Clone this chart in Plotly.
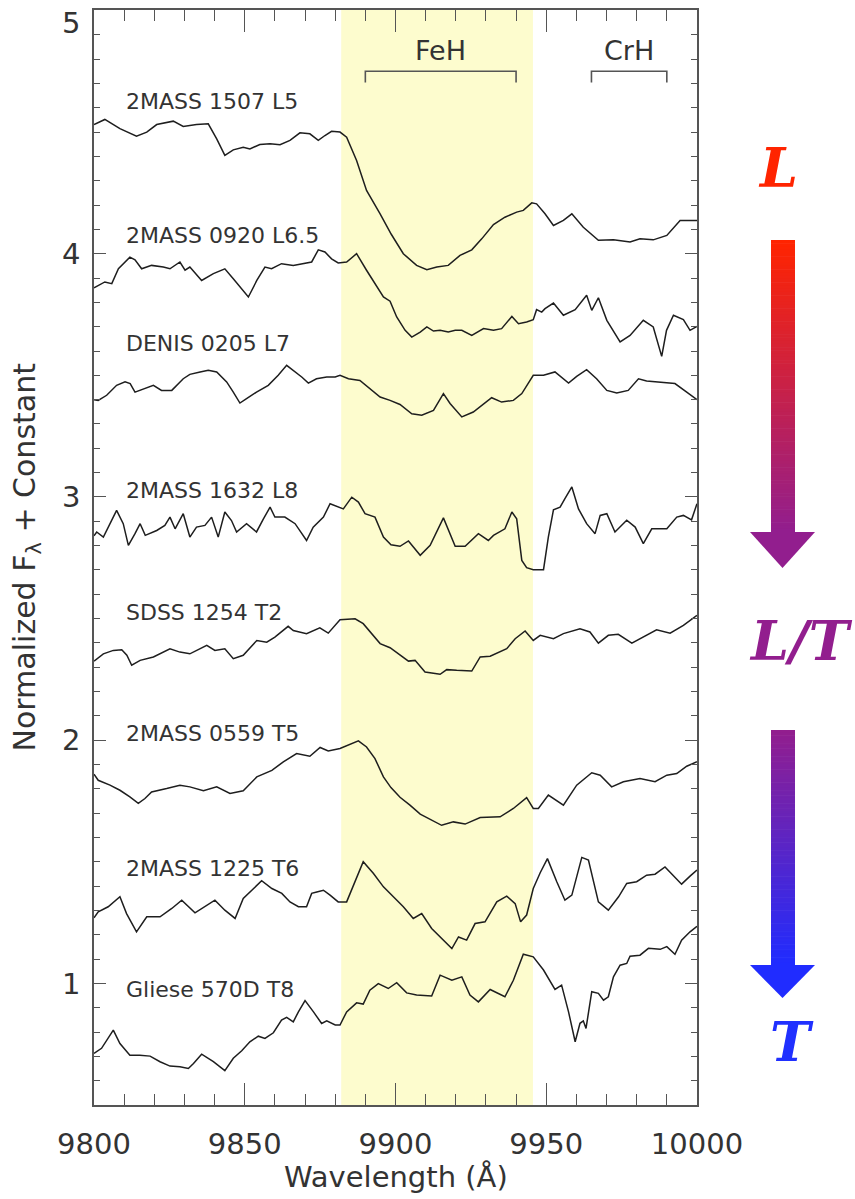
import plotly.graph_objects as go

# ---- spectra: (wavelength [Å], normalized flux + offset) ----
s1507_L5 = [(9800, 4.531), (9803.6, 4.552), (9808.6, 4.514), (9814.1, 4.483), (9817.5, 4.500),
            (9820.8, 4.531), (9826.3, 4.545), (9829.6, 4.523), (9834.0, 4.531), (9837.9, 4.534),
            (9840.7, 4.472), (9843.4, 4.404), (9846.2, 4.427), (9849.5, 4.438), (9851.7, 4.431),
            (9855.0, 4.449), (9858.4, 4.452), (9861.7, 4.448), (9865.0, 4.466), (9868.3, 4.497),
            (9871.6, 4.493), (9874.4, 4.466), (9876.6, 4.486), (9878.8, 4.503), (9881.6, 4.500),
            (9883.8, 4.479), (9887.1, 4.383), (9890.4, 4.260), (9894.9, 4.164), (9898.6, 4.080),
            (9902.6, 4.000), (9907.0, 3.952), (9910.4, 3.934), (9913.7, 3.945), (9917.5, 3.952),
            (9921.4, 3.993), (9925.3, 4.016), (9928.6, 4.061), (9932.5, 4.120), (9936.3, 4.150),
            (9940.2, 4.171), (9942.4, 4.178), (9945.2, 4.209), (9946.8, 4.205), (9949.6, 4.164),
            (9952.4, 4.116), (9955.7, 4.137), (9958.5, 4.164), (9962.3, 4.109), (9967.3, 4.055),
            (9972.3, 4.057), (9977.8, 4.048), (9981.1, 4.061), (9985.5, 4.057), (9990.0, 4.075),
            (9994.4, 4.137), (9997.7, 4.137), (10000, 4.137)]

s0920_L65 = [(9800, 3.860), (9803.6, 3.884), (9805.9, 3.877), (9808.1, 3.938), (9811.9, 3.986),
             (9813.6, 3.975), (9815.8, 3.938), (9819.1, 3.952), (9823.0, 3.945), (9825.2, 3.938),
             (9828.5, 3.966), (9830.2, 3.932), (9831.8, 3.945), (9835.7, 3.890), (9839.6, 3.918),
             (9843.4, 3.938), (9846.2, 3.897), (9851.2, 3.822), (9854.0, 3.890), (9856.7, 3.945),
             (9858.9, 3.938), (9862.2, 3.959), (9866.1, 3.952), (9869.4, 3.959), (9872.2, 3.966),
             (9874.4, 4.016), (9876.6, 4.007), (9878.8, 3.979), (9881.0, 3.962), (9883.8, 3.966),
             (9887.1, 4.000), (9890.4, 3.932), (9893.7, 3.870), (9896.0, 3.822), (9898.2, 3.805),
             (9900.4, 3.740), (9903.2, 3.685), (9905.4, 3.657), (9908.2, 3.678), (9910.4, 3.699),
             (9912.6, 3.682), (9914.8, 3.685), (9917.5, 3.678), (9919.8, 3.685), (9922.0, 3.685),
             (9925.3, 3.664), (9929.2, 3.692), (9932.5, 3.685), (9935.2, 3.692), (9938.6, 3.742),
             (9940.8, 3.712), (9943.5, 3.719), (9945.7, 3.729), (9946.8, 3.770), (9948.5, 3.760),
             (9949.6, 3.774), (9952.4, 3.797), (9955.7, 3.747), (9959.6, 3.770), (9963.4, 3.829),
             (9965.1, 3.767), (9967.3, 3.819), (9970.1, 3.726), (9974.5, 3.637), (9977.8, 3.664),
             (9982.2, 3.726), (9985.5, 3.699), (9988.3, 3.578), (9989.9, 3.685), (9992.2, 3.747),
             (9995.5, 3.729), (9997.7, 3.685), (10000, 3.701)]

s0205_L7 = [(9800, 3.400), (9801.4, 3.397), (9804.2, 3.418), (9807.5, 3.459), (9810.3, 3.473),
            (9812.0, 3.466), (9813.6, 3.431), (9816.4, 3.445), (9819.7, 3.459), (9822.4, 3.438),
            (9825.8, 3.438), (9829.6, 3.486), (9831.8, 3.504), (9835.2, 3.514), (9837.9, 3.521),
            (9840.7, 3.514), (9844.0, 3.473), (9846.2, 3.431), (9848.4, 3.386), (9850.6, 3.404),
            (9853.9, 3.431), (9857.8, 3.459), (9861.1, 3.500), (9863.9, 3.541), (9866.1, 3.521),
            (9868.9, 3.493), (9871.1, 3.468), (9873.8, 3.486), (9877.2, 3.493), (9880.0, 3.493),
            (9881.6, 3.500), (9884.4, 3.486), (9888.2, 3.479), (9891.5, 3.445), (9894.9, 3.411),
            (9898.2, 3.397), (9901.5, 3.380), (9905.4, 3.342), (9908.7, 3.336), (9912.6, 3.356),
            (9915.9, 3.425), (9918.1, 3.384), (9922.0, 3.329), (9925.8, 3.349), (9928.6, 3.377),
            (9931.9, 3.408), (9935.2, 3.390), (9939.1, 3.397), (9941.9, 3.425), (9945.7, 3.500),
            (9949.1, 3.500), (9952.9, 3.514), (9957.4, 3.468), (9960.1, 3.496), (9963.4, 3.523),
            (9966.7, 3.486), (9970.1, 3.438), (9973.4, 3.427), (9977.2, 3.438), (9980.6, 3.486),
            (9983.3, 3.477), (9987.8, 3.473), (9992.7, 3.466), (9996.6, 3.431), (10000, 3.400)]

s1632_L8 = [(9800, 2.840), (9800.9, 2.856), (9803.1, 2.835), (9805.3, 2.890), (9807.5, 2.945),
            (9809.7, 2.890), (9811.4, 2.801), (9813.6, 2.849), (9815.3, 2.890), (9817.0, 2.842),
            (9820.8, 2.862), (9823.5, 2.883), (9825.2, 2.917), (9826.9, 2.869), (9829.6, 2.931),
            (9831.8, 2.835), (9834.0, 2.876), (9836.8, 2.883), (9839.0, 2.917), (9841.2, 2.835),
            (9843.4, 2.938), (9845.6, 2.903), (9847.3, 2.856), (9850.6, 2.890), (9853.9, 2.856),
            (9856.2, 2.910), (9858.4, 2.958), (9860.0, 2.917), (9863.3, 2.917), (9866.7, 2.890),
            (9870.5, 2.821), (9872.7, 2.876), (9876.1, 2.917), (9878.3, 2.972), (9881.0, 2.958),
            (9882.7, 2.951), (9885.5, 2.999), (9887.7, 2.979), (9889.9, 2.931), (9893.2, 2.917),
            (9896.0, 2.835), (9898.5, 2.803), (9901.5, 2.797), (9904.3, 2.819), (9908.2, 2.760),
            (9911.5, 2.801), (9915.9, 2.914), (9919.8, 2.797), (9923.1, 2.797), (9927.5, 2.849),
            (9930.8, 2.821), (9932.5, 2.842), (9936.3, 2.869), (9938.6, 2.938), (9940.2, 2.910),
            (9941.9, 2.739), (9943.5, 2.709), (9945.7, 2.701), (9949.1, 2.701), (9950.7, 2.835),
            (9952.4, 2.947), (9954.6, 2.958), (9956.2, 2.993), (9958.5, 3.041), (9960.7, 2.951),
            (9963.4, 2.890), (9966.2, 2.849), (9967.9, 2.924), (9970.1, 2.931), (9972.8, 2.856),
            (9976.7, 2.904), (9979.5, 2.876), (9982.2, 2.808), (9985.0, 2.869), (9990.0, 2.869),
            (9993.3, 2.917), (9995.5, 2.924), (9998.2, 2.906), (10000, 2.972)]

s1254_T2 = [(9800, 2.325), (9803.1, 2.355), (9806.4, 2.369), (9809.2, 2.372), (9810.9, 2.349),
            (9812.5, 2.308), (9815.3, 2.328), (9819.7, 2.342), (9825.2, 2.376), (9828.5, 2.362),
            (9831.8, 2.355), (9837.4, 2.390), (9840.1, 2.369), (9843.4, 2.376), (9846.2, 2.335),
            (9849.5, 2.349), (9854.0, 2.410), (9857.3, 2.403), (9860.0, 2.424), (9864.4, 2.468),
            (9866.1, 2.451), (9870.5, 2.438), (9874.9, 2.462), (9877.7, 2.440), (9881.6, 2.495),
            (9886.6, 2.499), (9889.3, 2.479), (9892.1, 2.438), (9894.9, 2.397), (9898.2, 2.380),
            (9901.5, 2.349), (9904.3, 2.325), (9906.5, 2.328), (9909.8, 2.280), (9914.8, 2.271),
            (9917.0, 2.290), (9920.3, 2.287), (9925.3, 2.284), (9928.1, 2.342), (9931.4, 2.345),
            (9936.9, 2.376), (9939.7, 2.417), (9943.0, 2.449), (9945.7, 2.410), (9948.0, 2.431),
            (9952.4, 2.417), (9955.7, 2.438), (9961.2, 2.458), (9964.5, 2.445), (9967.3, 2.399),
            (9970.6, 2.431), (9973.9, 2.435), (9978.4, 2.399), (9982.2, 2.424), (9986.6, 2.454),
            (9991.1, 2.440), (9995.5, 2.472), (10000, 2.513)]

s0559_T5 = [(9800, 1.860), (9801.4, 1.835), (9805.3, 1.815), (9808.6, 1.794), (9811.9, 1.767),
            (9814.7, 1.740), (9816.9, 1.760), (9819.1, 1.787), (9824.1, 1.801), (9828.5, 1.815),
            (9831.8, 1.808), (9836.3, 1.792), (9840.7, 1.808), (9845.1, 1.781), (9849.5, 1.792),
            (9854.0, 1.849), (9859.0, 1.876), (9862.8, 1.911), (9867.2, 1.945), (9871.6, 1.934),
            (9875.0, 1.970), (9877.7, 1.956), (9881.6, 1.966), (9884.4, 1.979), (9887.7, 1.997),
            (9890.4, 1.972), (9893.2, 1.924), (9896.0, 1.849), (9898.5, 1.805), (9901.5, 1.765),
            (9904.8, 1.733), (9908.2, 1.696), (9912.0, 1.671), (9915.3, 1.650), (9919.2, 1.664),
            (9923.1, 1.655), (9928.1, 1.682), (9934.7, 1.685), (9939.1, 1.719), (9943.5, 1.764),
            (9945.7, 1.719), (9947.4, 1.719), (9950.7, 1.774), (9955.7, 1.733), (9960.1, 1.815),
            (9965.1, 1.866), (9967.9, 1.856), (9971.7, 1.808), (9975.6, 1.829), (9981.1, 1.842),
            (9986.1, 1.829), (9990.0, 1.856), (9993.3, 1.863), (9996.6, 1.893), (10000, 1.911)]

s1225_T6 = [(9800, 1.270), (9801.4, 1.294), (9804.7, 1.315), (9808.6, 1.356), (9810.8, 1.287),
            (9814.1, 1.212), (9817.5, 1.274), (9821.9, 1.274), (9825.8, 1.308), (9829.1, 1.342),
            (9833.5, 1.290), (9836.8, 1.315), (9840.1, 1.342), (9843.4, 1.301), (9846.8, 1.267),
            (9849.5, 1.349), (9852.3, 1.383), (9855.6, 1.422), (9859.0, 1.390), (9862.3, 1.370),
            (9865.0, 1.335), (9867.8, 1.315), (9870.5, 1.315), (9872.2, 1.370), (9873.9, 1.376),
            (9876.1, 1.383), (9878.3, 1.363), (9881.0, 1.335), (9883.8, 1.335), (9886.6, 1.418),
            (9889.3, 1.500), (9892.7, 1.452), (9896.0, 1.397), (9899.3, 1.356), (9902.6, 1.315),
            (9905.9, 1.267), (9908.7, 1.287), (9912.0, 1.226), (9916.4, 1.171), (9918.7, 1.143),
            (9920.9, 1.191), (9923.6, 1.178), (9926.4, 1.246), (9929.7, 1.253), (9933.6, 1.335),
            (9936.9, 1.359), (9939.7, 1.328), (9941.5, 1.253), (9943.5, 1.281), (9945.7, 1.390),
            (9948.0, 1.455), (9950.4, 1.513), (9953.5, 1.418), (9956.2, 1.342), (9958.5, 1.363),
            (9961.8, 1.518), (9964.0, 1.507), (9967.3, 1.335), (9970.6, 1.301), (9974.0, 1.356),
            (9976.7, 1.411), (9980.0, 1.418), (9983.3, 1.445), (9986.1, 1.449), (9989.4, 1.479),
            (9992.2, 1.445), (9994.9, 1.408), (9997.7, 1.441), (10000, 1.466)]

s570D_T8 = [(9800, 0.712), (9802.5, 0.733), (9806.4, 0.808), (9808.6, 0.753), (9811.9, 0.705),
            (9815.2, 0.705), (9818.6, 0.701), (9821.9, 0.678), (9825.2, 0.660), (9828.5, 0.657),
            (9831.3, 0.650), (9833.0, 0.671), (9835.7, 0.709), (9839.6, 0.678), (9843.4, 0.641),
            (9846.2, 0.692), (9849.0, 0.723), (9851.7, 0.760), (9854.5, 0.783), (9856.7, 0.774),
            (9859.5, 0.797), (9862.2, 0.849), (9863.9, 0.860), (9866.1, 0.842), (9867.8, 0.883),
            (9870.0, 0.929), (9872.8, 0.883), (9875.5, 0.835), (9877.2, 0.846), (9880.0, 0.829),
            (9881.6, 0.829), (9883.8, 0.883), (9887.1, 0.920), (9889.3, 0.915), (9891.5, 0.972),
            (9894.3, 0.999), (9897.6, 0.979), (9900.4, 1.003), (9903.7, 0.961), (9907.0, 0.952),
            (9912.0, 0.948), (9914.8, 1.034), (9918.7, 1.013), (9922.0, 1.027), (9924.7, 0.952),
            (9927.5, 0.924), (9931.4, 0.975), (9936.3, 0.945), (9939.1, 1.013), (9942.4, 1.120),
            (9945.7, 1.109), (9949.1, 1.055), (9952.9, 0.975), (9955.1, 0.993), (9957.4, 0.883),
            (9959.6, 0.760), (9961.2, 0.836), (9962.3, 0.846), (9963.2, 0.815), (9965.1, 0.966),
            (9967.3, 0.959), (9969.0, 0.931), (9970.6, 0.945), (9972.3, 1.027), (9974.5, 1.075),
            (9976.7, 1.082), (9977.8, 1.112), (9981.1, 1.116), (9983.9, 1.144), (9987.8, 1.140),
            (9990.0, 1.151), (9992.7, 1.120), (9994.9, 1.178), (9997.7, 1.212), (10000, 1.235)]

spectra = [s1507_L5, s0920_L65, s0205_L7, s1632_L8, s1254_T2, s0559_T5, s1225_T6, s570D_T8]
names = ["2MASS 1507 L5", "2MASS 0920 L6.5", "DENIS 0205 L7", "2MASS 1632 L8",
         "SDSS 1254 T2", "2MASS 0559 T5", "2MASS 1225 T6", "Gliese 570D T8"]
label_y = [4.626, 4.075, 3.631, 3.027, 2.526, 2.028, 1.473, 0.976]
label_x = 9810.0

# FeH band and molecular feature brackets
feh_band = [9882.0, 9945.6]
feh_bracket = [9890.0, 9940.0]
crh_bracket = [9965.0, 9990.0]
bracket_top, bracket_end = 4.750, 4.704
bracket_label_y = 4.836

x_ticks = [9800, 9850, 9900, 9950, 10000]
y_ticks = [1, 2, 3, 4]
y_top = 5

FONT = "DejaVu Sans"
TXT = "#333333"
AX = "#555555"

fig = go.Figure()
for sp, nm in zip(spectra, names):
    wl, fx = zip(*sp)
    fig.add_trace(go.Scatter(x=list(wl), y=list(fx), mode="lines", name=nm,
                             line=dict(color="#1e1e1e", width=1.5), showlegend=False,
                             hoverinfo="skip"))

shapes = [dict(type="rect", xref="x", yref="paper", x0=feh_band[0], x1=feh_band[1],
               y0=0, y1=1, fillcolor="#FDFCCE", line=dict(width=0), layer="below")]
for lo, hi in (feh_bracket, crh_bracket):
    shapes.append(dict(type="path", xref="x", yref="y",
                       path=f"M {lo},{bracket_end} L {lo},{bracket_top} L {hi},{bracket_top} L {hi},{bracket_end}",
                       line=dict(color="#555555", width=1.6)))

annotations = []
for nm, ly in zip(names, label_y):
    annotations.append(dict(x=label_x, y=ly, xref="x", yref="y", text=nm, showarrow=False,
                            xanchor="left", yanchor="middle",
                            font=dict(family=FONT, size=22, color=TXT)))
for txt, lo, hi in (("FeH", *feh_bracket), ("CrH", *crh_bracket)):
    annotations.append(dict(x=(lo + hi) / 2, y=bracket_label_y, xref="x", yref="y", text=txt,
                            showarrow=False, xanchor="center", yanchor="middle",
                            font=dict(family=FONT, size=27, color=TXT)))

# the top y label sits just inside the page, below the frame corner
annotations.append(dict(x=-12 / 603, y=y_top, xref="paper", yref="y", text=str(y_top),
                        showarrow=False, xanchor="right", yanchor="top", yshift=6,
                        font=dict(family=FONT, size=29, color=TXT)))

# axis titles
annotations.append(dict(x=0.5, y=(1105 - 1177) / 1095, xref="paper", yref="paper",
                        text="Wavelength (Å)", showarrow=False, xanchor="center", yanchor="middle",
                        font=dict(family=FONT, size=29, color=TXT)))
annotations.append(dict(x=(26 - 94) / 603, y=0.5, xref="paper", yref="paper",
                        text="Normalized F<sub>λ</sub> + Constant", showarrow=False, textangle=-90,
                        xanchor="center", yanchor="middle",
                        font=dict(family=FONT, size=30, color=TXT)))

# spectral-type sequence on the right: L -> L/T -> T with gradient arrows
def px(xpix):
    return (xpix - 94) / 603

def py(ypix):
    return (1105 - ypix) / 1095

def mix(c0, c1, t):
    return "rgb({},{},{})".format(*[round(a + (b - a) * t) for a, b in zip(c0, c1)])

def gradient_arrow(top, base, tip, c0, c1, n=90):
    sx0, sx1 = 771, 795
    h = (base - top) / n
    for i in range(n):
        y0 = top + i * h
        shapes.append(dict(type="rect", xref="paper", yref="paper",
                           x0=px(sx0), x1=px(sx1), y0=py(y0 + h + 0.6), y1=py(y0),
                           fillcolor=mix(c0, c1, i / (n - 1)), line=dict(width=0)))
    shapes.append(dict(type="path", xref="paper", yref="paper",
                       path=f"M {px(750)},{py(base)} L {px(815)},{py(base)} L {px(782.5)},{py(tip)} Z",
                       fillcolor=mix(c0, c1, 1.0), line=dict(width=0)))

RED, PURPLE, BLUE = (255, 36, 0), (146, 30, 142), (32, 44, 255)
gradient_arrow(240, 532, 568, RED, PURPLE)
gradient_arrow(730, 965, 998, PURPLE, BLUE)

SLAB = "DejaVu Serif"
for txt, xc, yc, col in (("<b><i>L</i></b>", 778, 168, "#FF2400"),
                         ("<b><i>L/T</i></b>", 801, 641, "#921E8E"),
                         ("<b><i>T</i></b>", 792, 1042, "#2030FF")):
    annotations.append(dict(x=px(xc), y=py(yc), xref="paper", yref="paper", text=txt,
                            showarrow=False, xanchor="center", yanchor="middle",
                            font=dict(family=SLAB, size=54, color=col)))

axis_common = dict(showline=True, linecolor=AX, linewidth=1.5, mirror="ticks", ticks="inside",
                   tickcolor=AX, tickwidth=1.3, showgrid=False, zeroline=False,
                   ticklabeloverflow="allow", automargin=False,
                   tickfont=dict(family=FONT, size=29, color=TXT))

fig.update_layout(
    width=855, height=1199,
    margin=dict(l=94, r=158, t=10, b=94, autoexpand=False),
    paper_bgcolor="white", plot_bgcolor="white",
    xaxis=dict(range=[9800, 10000.01], tickvals=x_ticks, ticktext=[str(v) for v in x_ticks],
               ticklen=22, ticklabelstandoff=12,
               minor=dict(dtick=10, ticklen=11, ticks="inside", tickcolor=AX, tickwidth=1.2),
               **axis_common),
    yaxis=dict(range=[0.5, 5.002], tickvals=y_ticks, ticktext=[str(v) for v in y_ticks],
               ticklen=12, ticklabelstandoff=6,
               minor=dict(dtick=0.1, ticklen=6, ticks="inside", tickcolor=AX, tickwidth=1.2),
               **axis_common),
    shapes=shapes,
    annotations=annotations,
)

fig.write_html("out.html")
